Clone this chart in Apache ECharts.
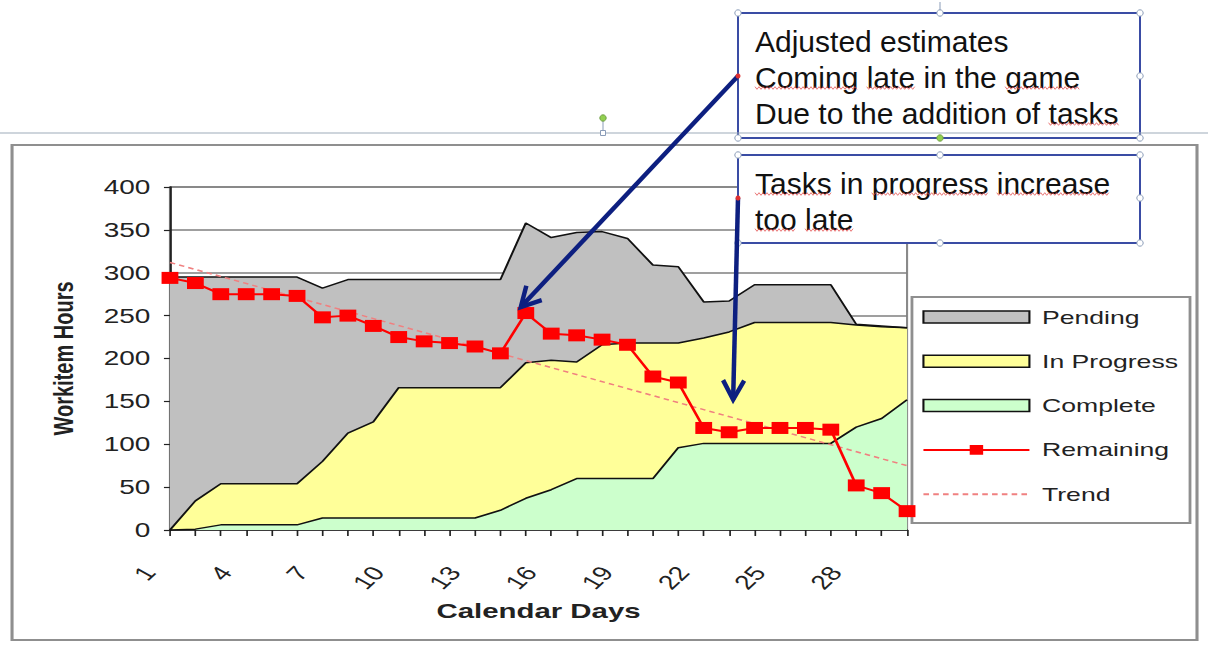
<!DOCTYPE html>
<html><head><meta charset="utf-8">
<script src="https://cdn.jsdelivr.net/npm/echarts@6/dist/echarts.min.js"></script>
<style>
html,body{margin:0;padding:0;background:#fff;overflow:hidden;}
#wrap{position:relative;width:1208px;height:655px;overflow:hidden;}
#chart{position:absolute;left:0;top:0;width:863px;height:655px;transform:scaleX(1.4);transform-origin:0 0;}
#notes{position:absolute;left:0;top:0;width:1208px;height:655px;}
</style></head><body>
<div id="wrap"><div id="chart"></div><div id="notes"></div></div>
<script>
// ---- data ----
const days = ['1','2','3','4','5','6','7','8','9','10','11','12','13','14','15','16','17','18','19','20','21','22','23','24','25','26','27','28','29','30'];
const complete   = [0,1,6,6,6,6,14,14,14,14,14,14,14,23,37,47,60,60,60,60,96,101,101,101,101,101,101,120,130,152];
const inProgress = [0,33,48,48,48,48,66,99,112,152,152,152,152,143,158,151,136,156,158,158,122,123,130,141,141,141,141,119,107,84];
const pending    = [295,261,241,241,241,241,202,179,166,126,126,126,126,126,163,143,151,132,122,91,89,42,36,44,44,44,44,1,1,0];
const remaining  = [294,288,275,275,275,273,248,250,238,225,220,218,214,206,253,229,227,222,216,179,172,119,114,119,119,119,117,52,43,22];
const trendEnds  = [312,75];   // trend line value at first and last day
const yTicks = {min:0, max:400, step:50};
const noteLines1 = ['Adjusted estimates','Coming late in the game','Due to the addition of tasks'];
const noteLines2 = ['Tasks in progress increase','too late'];

// ---- layout ----
const S = 1.4; // the chart picture is horizontally stretched
const FONT = '"Liberation Sans", Arial, sans-serif';
const INK = '#222';

const chart = echarts.init(document.getElementById('chart'), null, {renderer:'svg'});
const areaSeries = (name, data, fill) => ({
  name, type:'line', stack:'work', data, symbol:'none', color:fill,
  lineStyle:{color:'#111', width:1.5}, areaStyle:{color:fill, opacity:1}, z:2
});
chart.setOption({
  animation:false,
  backgroundColor:'#fff',
  graphic:[
    {type:'rect', shape:{x:8.6, y:145, width:846.4, height:495}, style:{fill:null, stroke:'#8f8f8f', lineWidth:2.2}, z:0},
    {type:'rect', shape:{x:651.4, y:297, width:198.6, height:226}, style:{fill:'#fff', stroke:'#8f8f8f', lineWidth:2}, z:1}
  ],
  grid:{left:121.4, right:215.1, top:187, bottom:125, show:true, backgroundColor:'#fff', borderColor:'#8a8a8a', borderWidth:1.5},
  xAxis:{
    type:'category', data:days, boundaryGap:false,
    axisLine:{lineStyle:{color:INK, width:1.5}},
    axisTick:{show:true, interval:0, length:6, lineStyle:{color:INK, width:1.2}},
    axisLabel:{interval:2, rotate:52, fontSize:20, color:INK, fontFamily:FONT, margin:20, padding:[0,24,0,0]},
    splitLine:{show:false},
    name:'Calendar Days', nameLocation:'middle', nameGap:67,
    nameTextStyle:{fontSize:21, fontWeight:'bold', color:INK, fontFamily:FONT}
  },
  yAxis:{
    type:'value', min:yTicks.min, max:yTicks.max, interval:yTicks.step,
    axisLine:{show:true, lineStyle:{color:INK, width:1.5}},
    axisTick:{show:true, length:4.3, lineStyle:{color:INK, width:1.2}},
    axisLabel:{fontSize:20, color:INK, margin:14, fontFamily:FONT},
    splitLine:{lineStyle:{color:'#7f7f7f', width:1.5}},
    name:'Workitem Hours', nameLocation:'middle', nameGap:66, nameRotate:90,
    nameTextStyle:{fontSize:20, fontWeight:'bold', color:INK, fontFamily:FONT}
  },
  legend:{
    orient:'vertical', left:658.6, top:307, padding:0, itemWidth:75.7, itemHeight:12, itemGap:24.3,
    selectedMode:false, z:3,
    textStyle:{fontSize:19, color:INK, fontFamily:FONT, lineHeight:20, padding:[0,0,0,4]},
    data:[
      {name:'Pending', icon:'rect', itemStyle:{color:'#c0c0c0', borderColor:'#111', borderWidth:1.5}},
      {name:'In Progress', icon:'rect', itemStyle:{color:'#ffff99', borderColor:'#111', borderWidth:1.5}},
      {name:'Complete', icon:'rect', itemStyle:{color:'#ccffcc', borderColor:'#111', borderWidth:1.5}},
      {name:'Remaining'},
      {name:'Trend', itemStyle:{color:'rgba(0,0,0,0)', borderWidth:0, opacity:0}}
    ]
  },
  series:[
    areaSeries('Complete', complete, '#ccffcc'),
    areaSeries('In Progress', inProgress, '#ffff99'),
    areaSeries('Pending', pending, '#c0c0c0'),
    {name:'Trend', type:'line', data:[[days[0], trendEnds[0]], [days[days.length-1], trendEnds[1]]],
     symbol:'none', color:'#f08080', lineStyle:{color:'#f08080', width:1.5, type:[4,3]}, z:4},
    {name:'Remaining', type:'line', data:remaining, symbol:'rect', symbolSize:[12,12], showAllSymbol:true, color:'#ff0000',
     itemStyle:{color:'#ff0000'}, lineStyle:{color:'#ff0000', width:2}, z:5}
  ]
});

// ---- annotation layer (PowerPoint call-outs on top of the chart) ----
const toScreen = (cat, val) => { const p = chart.convertToPixel({xAxisIndex:0, yAxisIndex:0}, [cat, val]); return [p[0]*S, p[1]]; };
const NAVY = '#0d1f80', BOX = '#3a4ca4', HANDLE = '#8a9cb8';
const t1 = toScreen('15', 253); const tip1 = [t1[0]-5, t1[1]-6];
const t2 = toScreen('23', 152); const tip2 = [t2[0]+4, t2[1]];
function arrow(from, to){
  const dx=to[0]-from[0], dy=to[1]-from[1], L=Math.hypot(dx,dy), ux=dx/L, uy=dy/L, len=22, a=0.5;
  const r = (s)=>[ux*Math.cos(s)-uy*Math.sin(s), ux*Math.sin(s)+uy*Math.cos(s)];
  const v1=r(a), v2=r(-a);
  return [
    {type:'line', shape:{x1:from[0],y1:from[1],x2:to[0],y2:to[1]}, style:{stroke:NAVY, lineWidth:4.5}, z:20},
    {type:'polyline', shape:{points:[[to[0]-len*v1[0], to[1]-len*v1[1]], to, [to[0]-len*v2[0], to[1]-len*v2[1]]]},
     style:{stroke:NAVY, lineWidth:4.5, fill:null, lineJoin:'miter'}, z:20}
  ];
}
const ctx = document.createElement('canvas').getContext('2d');
ctx.font = '30px "Liberation Sans"';
function squiggles(line, x0, yU, words){
  const out=[];
  words.forEach(w=>{
    const i = line.indexOf(w.word, w.from||0);
    const xs = x0 + ctx.measureText(line.slice(0,i)).width;
    const xe = xs + ctx.measureText(w.word).width;
    const pts=[]; let k=0;
    for(let x=xs; x<=xe; x+=2){ pts.push([x, yU + (k%2 ? 1.3 : -1.3)]); k++; }
    out.push({type:'polyline', shape:{points:pts}, style:{stroke:'#e24a4a', lineWidth:0.9, fill:null, opacity:0.85}, z:12});
  });
  return out;
}
const handle = (x,y,fill,stroke)=>({type:'circle', shape:{cx:x, cy:y, r:3.2}, style:{fill:fill||'#fff', stroke:stroke||HANDLE, lineWidth:1}, z:15});
const textLine = (t,x,y)=>({type:'text', x, y, style:{text:t, fontSize:30, fontFamily:FONT, fill:'#111', verticalAlign:'middle', align:'left'}, z:11});

const g = [];
g.push({type:'rect', shape:{x:738, y:13, width:402, height:125}, style:{fill:'#fff', stroke:BOX, lineWidth:2}, z:10});
g.push({type:'rect', shape:{x:738, y:155, width:402, height:88}, style:{fill:'#fff', stroke:BOX, lineWidth:2}, z:10});
g.push({type:'line', shape:{x1:0, y1:133, x2:1208, y2:133}, style:{stroke:'#9dabba', lineWidth:1.2}, z:13});
noteLines1.forEach((t,i)=>g.push(textLine(t, 755, 41+36*i)));
noteLines2.forEach((t,i)=>g.push(textLine(t, 755, 183+36*i)));
g.push(...squiggles(noteLines1[1], 755, 88, [{word:'Coming'},{word:'late'},{word:'game'}]));
g.push(...squiggles(noteLines1[2], 755, 124, [{word:'tasks'}]));
g.push(...squiggles(noteLines2[0], 755, 194, [{word:'Tasks'},{word:'progress'},{word:'increase'}]));
g.push(...squiggles(noteLines2[1], 755, 230, [{word:'too'},{word:'late'}]));
g.push(...arrow([738,76], tip1));
g.push(...arrow([738,198], tip2));
g.push({type:'line', shape:{x1:940, y1:2, x2:940, y2:13}, style:{stroke:HANDLE, lineWidth:1}, z:14});
g.push({type:'line', shape:{x1:603, y1:121, x2:603, y2:131}, style:{stroke:HANDLE, lineWidth:1}, z:14});
g.push({type:'rect', shape:{x:600.5, y:130.5, width:5, height:5}, style:{fill:'#fff', stroke:HANDLE, lineWidth:1}, z:15});
g.push(handle(603,118,'#92d050','#6f9f45'));
[[738,13],[940,13],[1140,13],[1140,76],[738,138],[1140,138],
 [738,155],[940,155],[1140,155],[1140,198],[738,243],[940,243],[1140,243]].forEach(p=>g.push(handle(p[0],p[1])));
g.push(handle(940,138,'#92d050','#6f9f45'));
g.push({type:'circle', shape:{cx:738, cy:76, r:2.5}, style:{fill:'#e03030'}, z:21});
g.push({type:'circle', shape:{cx:738, cy:198, r:2.5}, style:{fill:'#e03030'}, z:21});

const notes = echarts.init(document.getElementById('notes'), null, {renderer:'svg'});
notes.setOption({animation:false, backgroundColor:'transparent', graphic:g});
</script>
</body></html>
